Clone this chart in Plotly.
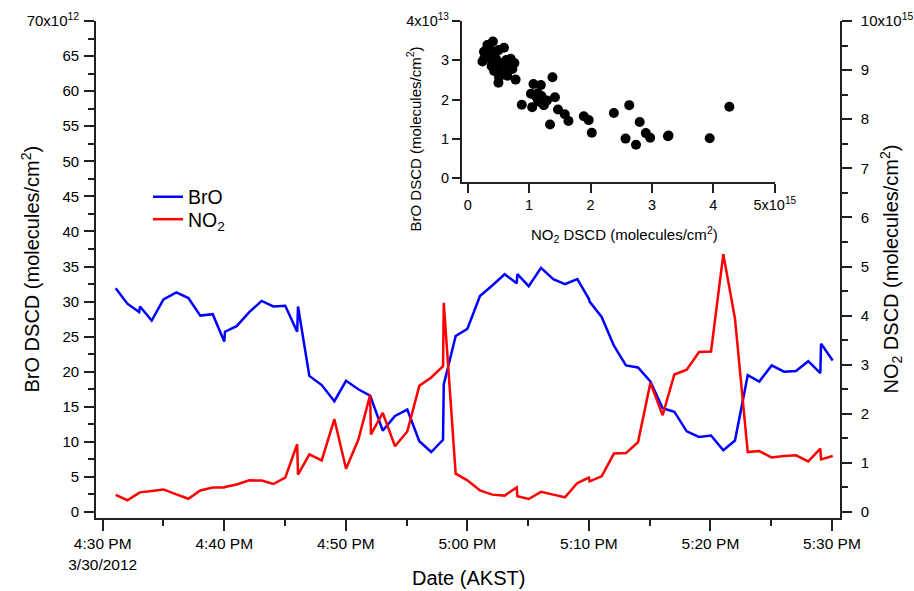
import numpy as np
import pandas as pd
import plotly.graph_objects as go

# ---------------- data ----------------
start_time = pd.Timestamp("2012-03-30 16:30:00")

minutes_after_start = [
    1.07, 2.03, 3.0, 3.07, 4.03, 5.0, 6.06, 7.05, 8.03, 9.05,
    10.0, 10.06, 11.02, 12.06, 13.08, 14.04, 15.02, 16.0, 16.07, 17.0,
    18.02, 19.06, 20.02, 21.03, 22.0, 22.07, 23.04, 24.05, 25.06, 26.05,
    27.03, 28.0, 28.06, 29.04, 30.0, 31.04, 32.05, 33.07, 34.06, 34.12,
    35.05, 36.06, 37.07, 38.03, 39.05, 40.0, 40.06, 41.05, 42.06, 43.05,
    44.04, 45.06, 46.07, 47.03, 48.05, 49.06, 50.05, 51.06, 52.02, 53.07,
    54.02, 55.04, 56.05, 57.04, 58.05, 59.04, 59.1, 60.06,
]

bro_1e12 = [
    31.9, 29.7, 28.5, 29.3, 27.3, 30.3, 31.3, 30.5, 28.0, 28.2,
    24.3, 25.7, 26.5, 28.5, 30.1, 29.3, 29.4, 25.7, 29.3, 19.4,
    18.1, 15.8, 18.7, 17.5, 16.6, 16.3, 11.6, 13.7, 14.6, 10.1,
    8.55, 10.3, 18.2, 25.1, 26.1, 30.8, 32.3, 33.9, 32.6, 33.9,
    32.2, 34.8, 33.2, 32.5, 33.2, 30.4, 30.0, 27.8, 23.7, 20.9,
    20.6, 18.6, 14.8, 14.3, 11.5, 10.7, 10.9, 8.8, 10.2, 19.5,
    18.6, 20.9, 20.0, 20.1, 21.5, 19.8, 24.0, 21.6,
]

no2_1e15 = [
    0.35, 0.24, 0.39, 0.40, 0.43, 0.46, 0.36, 0.27, 0.44, 0.50,
    0.50, 0.51, 0.56, 0.645, 0.64, 0.57, 0.70, 1.38, 0.76, 1.175,
    1.05, 1.89, 0.88, 1.47, 2.38, 1.58, 2.02, 1.34, 1.64, 2.57,
    2.74, 2.97, 4.26, 0.78, 0.645, 0.44, 0.354, 0.334, 0.50, 0.32,
    0.265, 0.41, 0.354, 0.30, 0.59, 0.70, 0.625, 0.727, 1.19, 1.20,
    1.42, 2.63, 1.97, 2.80, 2.90, 3.26, 3.27, 5.25, 3.94, 1.22,
    1.24, 1.11, 1.14, 1.155, 1.03, 1.29, 1.07, 1.14,
]

major_tick_minutes = [0, 10, 20, 30, 40, 50, 60]
major_tick_labels = ["4:30 PM<br>3/30/2012", "4:40 PM", "4:50 PM", "5:00 PM",
                     "5:10 PM", "5:20 PM", "5:30 PM"]
minor_tick_minutes = [5, 15, 25, 35, 45, 55]

bro_tick_values = [0, 5, 10, 15, 20, 25, 30, 35, 40, 45, 50, 55, 60, 65, 70]
bro_tick_labels = ["0", "5", "10", "15", "20", "25", "30", "35", "40", "45",
                   "50", "55", "60", "65", "70x10<sup>12</sup>"]
bro_minor_values = [2.5, 7.5, 12.5, 17.5, 22.5, 27.5, 32.5, 37.5, 42.5, 47.5,
                    52.5, 57.5, 62.5, 67.5]

no2_tick_values = [0, 1, 2, 3, 4, 5, 6, 7, 8, 9, 10]
no2_tick_labels = ["0", "1", "2", "3", "4", "5", "6", "7", "8", "9",
                   "10x10<sup>15</sup>"]
no2_minor_values = [0.5, 1.5, 2.5, 3.5, 4.5, 5.5, 6.5, 7.5, 8.5, 9.5]

inset_x_tick_values = [0, 1, 2, 3, 4, 5]
inset_x_tick_labels = ["0", "1", "2", "3", "4", "5x10<sup>15</sup>"]
inset_y_tick_values = [0, 1, 2, 3, 4]
inset_y_tick_labels = ["0", "1", "2", "3", "4x10<sup>13</sup>"]

# ---------------- derived ----------------
times = start_time + pd.to_timedelta(minutes_after_start, unit="m")
bro = np.array(bro_1e12) * 1e12
no2 = np.array(no2_1e15) * 1e15


def t_of(m):
    return (start_time + pd.Timedelta(minutes=m)).strftime("%Y-%m-%d %H:%M:%S.%f")


FONT = "Liberation Sans, Arial, sans-serif"
AX = "#231f20"
LW = 1.6

fig = go.Figure()
fig.add_trace(go.Scatter(x=times, y=bro, mode="lines", name="BrO",
                         line=dict(color="#0000ff", width=2.5),
                         xaxis="x", yaxis="y", legend="legend"))
fig.add_trace(go.Scatter(x=times, y=no2, mode="lines", name="NO<sub>2</sub>",
                         line=dict(color="#ff0000", width=2.5),
                         xaxis="x", yaxis="y2", legend="legend2"))
fig.add_trace(go.Scatter(x=no2, y=bro, mode="markers", showlegend=False,
                         marker=dict(color="black", size=10),
                         xaxis="x2", yaxis="y3"))

W, H = 914, 591
ml, mr, mt, mb = 96, 74, 21, 73
pw, ph = W - ml - mr, H - mt - mb


def px_x(p):
    return (p - ml) / pw


def px_y(p):
    return (H - mb - p) / ph


common = dict(showline=True, linecolor=AX, linewidth=LW, ticks="outside",
              tickcolor=AX, tickwidth=LW, showgrid=False, zeroline=False,
              mirror=False, automargin=False)

legend_style = dict(xanchor="left", yanchor="middle", bgcolor="rgba(0,0,0,0)",
                    font=dict(size=19.5, family=FONT))

fig.update_layout(
    template="none",
    width=W, height=H, autosize=False,
    margin=dict(l=ml, r=mr, t=mt, b=mb, pad=0),
    paper_bgcolor="white", plot_bgcolor="white",
    font=dict(family=FONT, color="black"),
    showlegend=True,
    legend=dict(x=px_x(148), y=px_y(197.0), **legend_style),
    legend2=dict(x=px_x(148), y=px_y(219.5), **legend_style),
    xaxis=dict(type="date", domain=[0, 1], anchor="y",
               range=[t_of(-0.551), t_of(60.66)],
               tickmode="array",
               tickvals=[t_of(m) for m in major_tick_minutes],
               ticktext=major_tick_labels, ticklen=11,
               tickfont=dict(size=15.5),
               minor=dict(tickmode="array",
                          tickvals=[t_of(m) for m in minor_tick_minutes],
                          ticks="outside", ticklen=6, tickwidth=LW,
                          tickcolor=AX, showgrid=False),
               **common),
    yaxis=dict(domain=[0, 1], anchor="x", range=[-0.855e12, 70e12],
               tickmode="array", tickvals=[v * 1e12 for v in bro_tick_values],
               ticktext=bro_tick_labels, ticklen=10, tickfont=dict(size=15),
               ticklabelstandoff=2,
               minor=dict(tickmode="array",
                          tickvals=[v * 1e12 for v in bro_minor_values],
                          ticks="outside", ticklen=6, tickwidth=LW,
                          tickcolor=AX, showgrid=False),
               **common),
    yaxis2=dict(overlaying="y", side="right", anchor="x",
                range=[-0.122e15, 10e15],
                tickmode="array", tickvals=[v * 1e15 for v in no2_tick_values],
                ticktext=no2_tick_labels, ticklen=10, tickfont=dict(size=15),
                ticklabelstandoff=6,
                minor=dict(tickmode="array",
                           tickvals=[v * 1e15 for v in no2_minor_values],
                           ticks="outside", ticklen=6, tickwidth=LW,
                           tickcolor=AX, showgrid=False),
                **common),
    xaxis2=dict(domain=[px_x(461.7), px_x(774.8)], anchor="y3",
                range=[-0.098e15, 5.0e15], tickmode="array",
                tickvals=[v * 1e15 for v in inset_x_tick_values],
                ticktext=inset_x_tick_labels, ticklen=9,
                tickfont=dict(size=14.5), **common),
    yaxis3=dict(domain=[px_y(181.7), 1.0], anchor="x2",
                range=[-0.086e13, 4.0e13], tickmode="array",
                tickvals=[v * 1e13 for v in inset_y_tick_values],
                ticktext=inset_y_tick_labels, ticklen=8,
                tickfont=dict(size=14.5), **common),
)

annotations = [
    dict(text="BrO DSCD (molecules/cm<sup>2</sup>)", x=px_x(30), y=0.5,
         textangle=-90, font=dict(size=20)),
    dict(text="NO<sub>2</sub> DSCD (molecules/cm<sup>2</sup>)", x=px_x(891), y=0.5,
         textangle=-90, font=dict(size=20)),
    dict(text="Date (AKST)", x=0.5, y=px_y(578), font=dict(size=20)),
    dict(text="BrO DSCD (molecules/cm<sup>2</sup>)", x=px_x(413.5), y=px_y(139),
         textangle=-90, font=dict(size=15)),
    dict(text="NO<sub>2</sub> DSCD (molecules/cm<sup>2</sup>)", x=px_x(624.5),
         y=px_y(234), font=dict(size=15)),
]
for a in annotations:
    a.update(xref="paper", yref="paper", showarrow=False,
             xanchor="center", yanchor="middle")
fig.update_layout(annotations=annotations)

fig.write_html("out.html")
